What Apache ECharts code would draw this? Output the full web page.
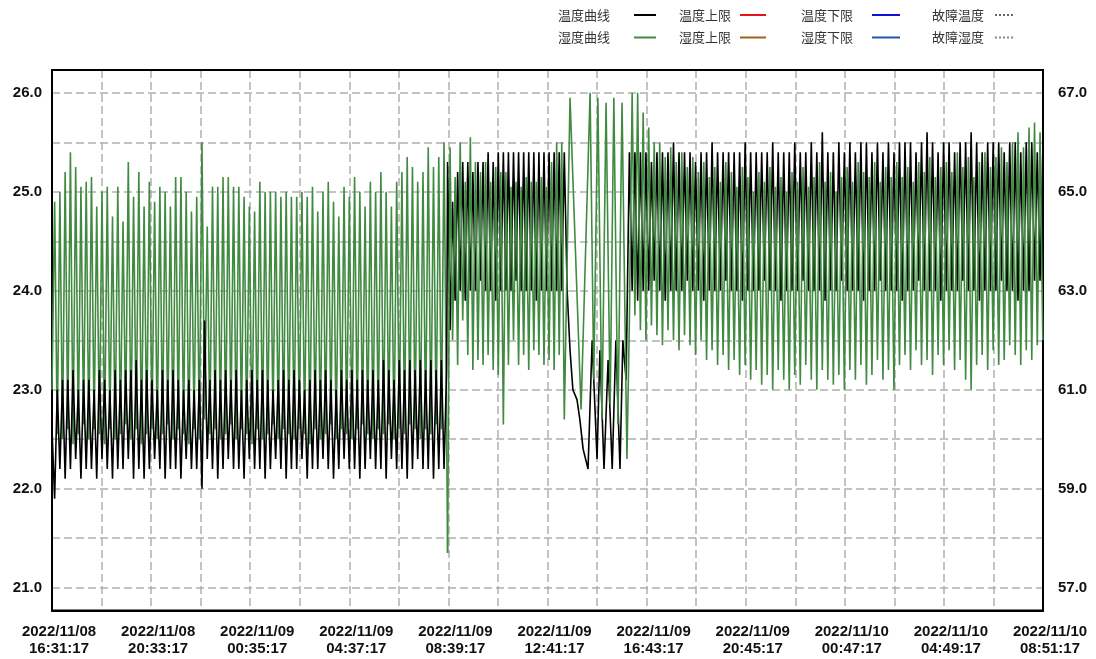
<!DOCTYPE html>
<html>
<head>
<meta charset="utf-8">
<script src="https://cdn.jsdelivr.net/npm/echarts@6/dist/echarts.min.js"></script>
<style>html,body{margin:0;padding:0;background:#fff}#c{width:1096px;height:659px}</style>
</head>
<body>
<div id="c"></div>
<script>
// ---- axis definitions ----
const startTime = new Date(2022, 10, 8, 16, 31, 17);
const xSpanMinutes = 2420;
const xGridStep = 121;
const xLabelStep = 242;
const tempMin = 20.77, tempMax = 26.23;
const humMin = 56.54, humMax = 67.46;
const tempGridValues = [21.0, 21.5, 22.0, 22.5, 23.0, 23.5, 24.0, 24.5, 25.0, 25.5, 26.0];
const tempLabelValues = [21.0, 22.0, 23.0, 24.0, 25.0, 26.0];
const humLabelValues = [57.0, 59.0, 61.0, 63.0, 65.0, 67.0];

const legendNames = ['温度曲线', '温度上限', '温度下限', '故障温度', '湿度曲线', '湿度上限', '湿度下限', '故障湿度'];

// ---- segment A (uniform step 6.425 min, from t=0) ----
const tempA_start = 22.6;
const tempA_lo = [
21.9,22.2,22.1,22.2,22.3,22.1,22.2,22.2,22.1,22.3,
22.2,22.1,22.2,22.2,22.3,22.1,22.2,22.1,22.2,22.3,
22.2,22.1,22.2,22.2,22.1,22.3,22.2,22.2,22.0,22.3,
22.2,22.1,22.2,22.3,22.2,22.2,22.1,22.3,22.2,22.2,
22.1,22.2,22.3,22.2,22.1,22.2,22.2,22.3,22.1,22.2,
22.2,22.3,22.2,22.1,22.2,22.3,22.2,22.2,22.1,22.2,
22.3,22.2,22.2,22.1,22.3,22.2,22.2,22.1,22.2,22.3,
22.2,22.2,22.1,22.2,22.2];
const tempA_hi = [
23.0,23.1,23.1,23.2,23.0,23.1,23.1,23.0,23.2,23.1,
23.0,23.2,23.1,23.2,23.2,23.3,23.1,23.2,23.1,23.0,
23.2,23.1,23.2,23.1,23.0,23.1,23.0,23.1,23.7,23.1,
23.2,23.1,23.2,23.1,23.2,23.0,23.1,23.2,23.1,23.2,
23.1,23.0,23.1,23.2,23.1,23.2,23.1,23.0,23.1,23.2,
23.1,23.2,23.1,23.0,23.2,23.1,23.2,23.1,23.2,23.1,
23.2,23.1,23.3,23.2,23.1,23.3,23.2,23.3,23.2,23.3,
23.2,23.3,23.2,23.3,23.2];
const humA_start = 61.0;
const humA_hi = [
64.8,65.0,65.4,65.8,65.5,65.1,65.2,65.3,64.7,65.0,
65.1,64.5,65.1,64.4,65.6,64.9,65.4,64.7,65.2,64.8,
65.1,65.0,64.7,65.3,65.3,65.0,64.6,64.9,66.0,64.3,
65.1,65.1,65.3,65.3,65.1,65.1,64.9,64.7,64.6,65.2,
65.0,65.0,65.0,64.9,65.0,64.9,64.9,65.0,64.9,65.1,
64.6,65.0,65.2,64.8,64.5,65.1,64.9,65.3,65.0,64.7,
65.2,65.0,65.4,65.0,64.7,65.2,65.4,65.7,65.5,65.2,
65.4,65.9,65.5,65.7,66.0];
const humA_lo = [
60.1,60.0,60.2,59.9,60.1,60.3,60.0,60.2,60.1,59.9,
60.2,60.0,60.1,60.3,60.0,60.2,59.9,60.1,60.2,60.0,
60.1,60.3,60.0,60.2,60.1,59.9,60.2,60.0,60.4,60.1,
60.2,60.0,60.1,60.3,60.0,60.2,60.1,59.9,60.2,60.0,
60.1,60.3,60.0,60.2,60.1,60.0,60.2,60.1,59.9,60.2,
60.0,60.1,60.3,60.0,60.2,60.1,60.0,60.2,60.3,60.1,
60.0,60.2,60.1,60.3,60.0,60.2,60.1,60.3,60.2,60.0,
60.2,60.1,60.3,60.2,60.1];

// ---- transition point ----
const jumpTime = 966, tempJump = 25.3, humJump = 57.7;

// ---- segment B (step 6.2 min, from t=972) ----
const tempB_lo = [23.6,23.9,24.0,23.9,24.0,24.0,24.1,24.0,24.0,23.9,24.0,24.0,24.0,24.1,24.0,24.0,24.0,23.9,24.0,24.0,24.0,24.0,24.0];
const tempB_hi = [24.9,25.2,25.3,25.3,25.2,25.3,25.3,25.4,25.3,25.4,25.4,25.4,25.4,25.4,25.4,25.4,25.4,25.4,25.4,25.4,25.4,25.4,25.4];
const humB_hi = [65.9,65.3,66.0,65.2,66.1,65.6,65.4,65.6,65.2,65.5,65.4,65.4,65.1,65.2,65.1,65.3,65.2,65.2,65.3,65.1,65.6,66.0,66.0];
const humB_lo = [62.0,61.5,62.4,61.7,61.4,61.6,61.5,61.7,61.4,61.3,60.3,61.5,62.0,61.5,61.7,61.4,61.8,61.7,61.5,61.6,61.4,61.7,60.4];

// ---- segment C (irregular, minutes) ----
const tempC_t = [1258,1265,1272,1282,1289,1297,1309,1319,1331,1338,1348,1358,1368,1377,1387,1394,1402];
const tempC_v = [24.0,23.4,23.0,22.9,22.7,22.4,22.2,23.5,22.3,23.4,22.2,23.3,22.2,23.5,22.2,23.5,23.1];
const humC_t = [1265,1292,1314,1323,1333,1343,1353,1363,1372,1382,1392,1404];
const humC_v = [66.9,60.6,67.0,61.2,66.9,60.4,66.8,60.7,66.9,60.3,66.8,59.6];

// ---- segment D (step 6.73 min, from t=1410) ----
const tempD_hi = [
25.4,25.4,25.4,25.4,25.3,25.4,25.4,25.4,25.5,25.4,
25.4,25.4,25.3,25.4,25.4,25.5,25.4,25.4,25.4,25.4,
25.4,25.5,25.4,25.4,25.4,25.4,25.5,25.4,25.4,25.4,
25.5,25.4,25.4,25.5,25.4,25.6,25.4,25.4,25.5,25.4,
25.5,25.4,25.5,25.5,25.4,25.5,25.4,25.5,25.4,25.5,
25.5,25.5,25.4,25.5,25.6,25.5,25.4,25.5,25.5,25.4,
25.5,25.5,25.6,25.5,25.4,25.5,25.5,25.5,25.4,25.5,
25.5,25.4,25.5,25.5,25.4,25.4];
const tempD_lo = [
24.0,23.9,24.0,24.0,24.1,24.0,23.9,24.0,24.0,24.0,
24.1,24.0,24.0,23.9,24.0,24.0,24.0,24.1,24.0,24.0,
23.9,24.0,24.0,24.0,24.1,24.0,24.0,23.9,24.0,24.0,
24.0,24.1,24.0,24.0,24.0,23.9,24.0,24.0,24.1,24.0,
24.0,24.0,23.9,24.0,24.0,24.1,24.0,24.0,24.0,23.9,
24.0,24.0,24.1,24.0,24.0,24.0,23.9,24.0,24.0,24.0,
24.1,24.0,24.0,23.9,24.0,24.0,24.0,24.1,24.0,24.0,
23.9,24.0,24.0,24.1,24.1];
const humD_lo = [
62.4,62.5,62.2,62.0,62.3,62.1,61.9,62.2,62.0,61.8,
62.1,61.9,61.7,62.0,61.6,61.8,61.5,61.7,61.4,61.6,
61.3,61.5,61.2,61.4,61.1,61.3,61.0,61.4,61.2,61.0,
61.3,61.1,61.5,61.2,61.0,61.4,61.2,61.1,61.3,61.0,
61.4,61.2,61.5,61.1,61.3,61.6,61.2,61.4,61.0,61.5,
61.7,61.4,61.8,61.5,61.6,61.3,61.7,61.5,61.8,61.4,
61.6,61.2,61.0,61.5,61.7,61.4,61.8,61.5,61.6,61.9,
61.7,61.5,61.8,61.6,61.9,62.0];
const humD_hi = [
67.0,67.0,66.6,66.3,66.0,66.0,65.7,65.9,65.6,65.8,
65.5,65.7,65.4,65.6,65.3,65.5,65.2,65.6,65.4,65.1,
65.5,65.3,65.0,65.4,65.2,65.5,65.1,65.3,65.0,65.4,
65.2,65.5,65.1,65.3,65.6,65.2,65.4,65.0,65.3,65.5,
65.2,65.6,65.4,65.3,65.6,65.2,65.5,65.3,65.6,65.3,
65.5,65.2,65.6,65.4,65.7,65.3,65.5,65.6,65.4,65.8,
65.5,65.7,65.3,65.6,65.8,65.5,65.7,65.9,65.6,66.0,
66.2,65.9,66.3,66.4,66.2];

// ---- helpers ----
function inter(a, b) {
  const r = [];
  const n = Math.max(a.length, b.length);
  for (let i = 0; i < n; i++) { if (i < a.length) r.push(a[i]); if (i < b.length) r.push(b[i]); }
  return r;
}
function seg(start, step, arr) { return arr.map((v, i) => [start + i * step, v]); }
function pairs(ts, vs) { return ts.map((t, i) => [t, vs[i]]); }

const tempData = [].concat(
  [[0, tempA_start]],
  seg(6.425, 6.425, inter(tempA_lo, tempA_hi)),
  [[jumpTime, tempJump]],
  seg(972, 6.2, inter(tempB_lo, tempB_hi)),
  pairs(tempC_t, tempC_v),
  seg(1410, 6.73, inter(tempD_hi, tempD_lo))
);
// humidity split in two drawing parts (same series name / legend entry)
const humDataPart1 = [].concat(
  [[0, humA_start]],
  seg(6.425, 6.425, inter(humA_hi, humA_lo)),
  [[jumpTime, humJump]]
);
const humDataPart2 = [].concat(
  [[jumpTime, humJump]],
  seg(972, 6.2, inter(humB_hi, humB_lo)),
  pairs(humC_t, humC_v),
  seg(1410, 6.73, inter(humD_lo, humD_hi))
);

function pad(n) { return (n < 10 ? '0' : '') + n; }
function fmtTime(min) {
  const d = new Date(startTime.getTime() + min * 60000);
  return d.getFullYear() + '/' + pad(d.getMonth() + 1) + '/' + pad(d.getDate()) + '\n' +
    pad(d.getHours()) + ':' + pad(d.getMinutes()) + ':' + pad(d.getSeconds());
}

const chart = echarts.init(document.getElementById('c'), null, { renderer: 'canvas' });

const legendCols = [558, 679, 801, 932];
const legendIconW = [22, 26, 28, 19];
const legendPadR = [19, 4, 14, 6];
const legendRows = [8.5, 31];
const legends = legendNames.map((name, i) => {
  const col = i % 4, row = Math.floor(i / 4);
  return {
    data: [name], left: legendCols[col], top: legendRows[row], align: 'right', orient: 'horizontal',
    itemWidth: legendIconW[col], itemHeight: 14, padding: 0, selectedMode: false,
    lineStyle: { width: 2 },
    itemStyle: { opacity: 0, color: 'rgba(0,0,0,0)', borderColor: 'rgba(0,0,0,0)', borderWidth: 0 },
    textStyle: { fontSize: 13, color: '#333', fontFamily: 'Noto Sans CJK SC', padding: [0, legendPadR[col], 0, 0] }
  };
});

const axisFont = { fontSize: 15, fontWeight: 'bold', color: '#111', fontFamily: 'Liberation Sans, Arial, sans-serif' };
const dash = { color: '#b0b0b0', type: [8, 4], width: 1.5 };
const solidAxis = { show: true, onZero: false, lineStyle: { color: '#000', width: 2 } };
const humColor = '#418a41';

function extraSeries(name, color, yIdx, dotted) {
  return { name, type: 'line', yAxisIndex: yIdx, data: [], symbol: 'none', color,
    lineStyle: { color, width: 1.5, type: dotted ? 'dotted' : 'solid' } };
}

chart.setOption({
  animation: false,
  backgroundColor: '#fff',
  legend: legends,
  grid: { left: 52, right: 53, top: 70, bottom: 48.5, show: true, borderColor: '#000', borderWidth: 2,
    backgroundColor: 'transparent', outerBoundsMode: 'none', containLabel: false },
  xAxis: [{
    type: 'value', min: 0, max: xSpanMinutes, interval: xGridStep, position: 'bottom',
    axisLine: solidAxis, axisTick: { show: false },
    splitLine: { show: true, lineStyle: dash },
    axisLabel: Object.assign({}, axisFont, {
      margin: 13, lineHeight: 17, padding: [0, 0, 0, 14], showMinLabel: true, showMaxLabel: true,
      formatter: v => (Math.round(v) % xLabelStep === 0 ? fmtTime(v) : '')
    })
  }, {
    type: 'value', min: 0, max: xSpanMinutes, position: 'top',
    axisLine: solidAxis, axisTick: { show: false }, axisLabel: { show: false }, splitLine: { show: false }
  }],
  yAxis: [{
    type: 'value', min: tempMin, max: tempMax, position: 'left',
    axisLine: solidAxis, axisTick: { show: false, customValues: tempGridValues },
    splitLine: { show: true, lineStyle: dash },
    axisLabel: Object.assign({}, axisFont, { customValues: tempLabelValues, margin: 10, formatter: v => v.toFixed(1) })
  }, {
    type: 'value', min: humMin, max: humMax, position: 'right',
    axisLine: solidAxis, axisTick: { show: false, customValues: humLabelValues },
    splitLine: { show: false },
    axisLabel: Object.assign({}, axisFont, { customValues: humLabelValues, margin: 15, formatter: v => v.toFixed(1) })
  }],
  series: [
    { name: '湿度曲线', type: 'line', yAxisIndex: 1, data: humDataPart1, symbol: 'none', color: humColor,
      lineStyle: { color: humColor, width: 1.6 }, z: 2 },
    { name: '温度曲线', type: 'line', yAxisIndex: 0, data: tempData, symbol: 'none', color: '#000',
      lineStyle: { color: '#000', width: 1.6 }, z: 3 },
    { name: '湿度曲线', type: 'line', yAxisIndex: 1, data: humDataPart2, symbol: 'none', color: humColor,
      lineStyle: { color: humColor, width: 1.6 }, z: 4 },
    extraSeries('温度上限', '#e8141c', 0, false),
    extraSeries('温度下限', '#1010d8', 0, false),
    extraSeries('故障温度', '#666', 0, true),
    extraSeries('湿度上限', '#a0601e', 1, false),
    extraSeries('湿度下限', '#1e5aa0', 1, false),
    extraSeries('故障湿度', '#888', 1, true)
  ]
});
</script>
</body>
</html>
